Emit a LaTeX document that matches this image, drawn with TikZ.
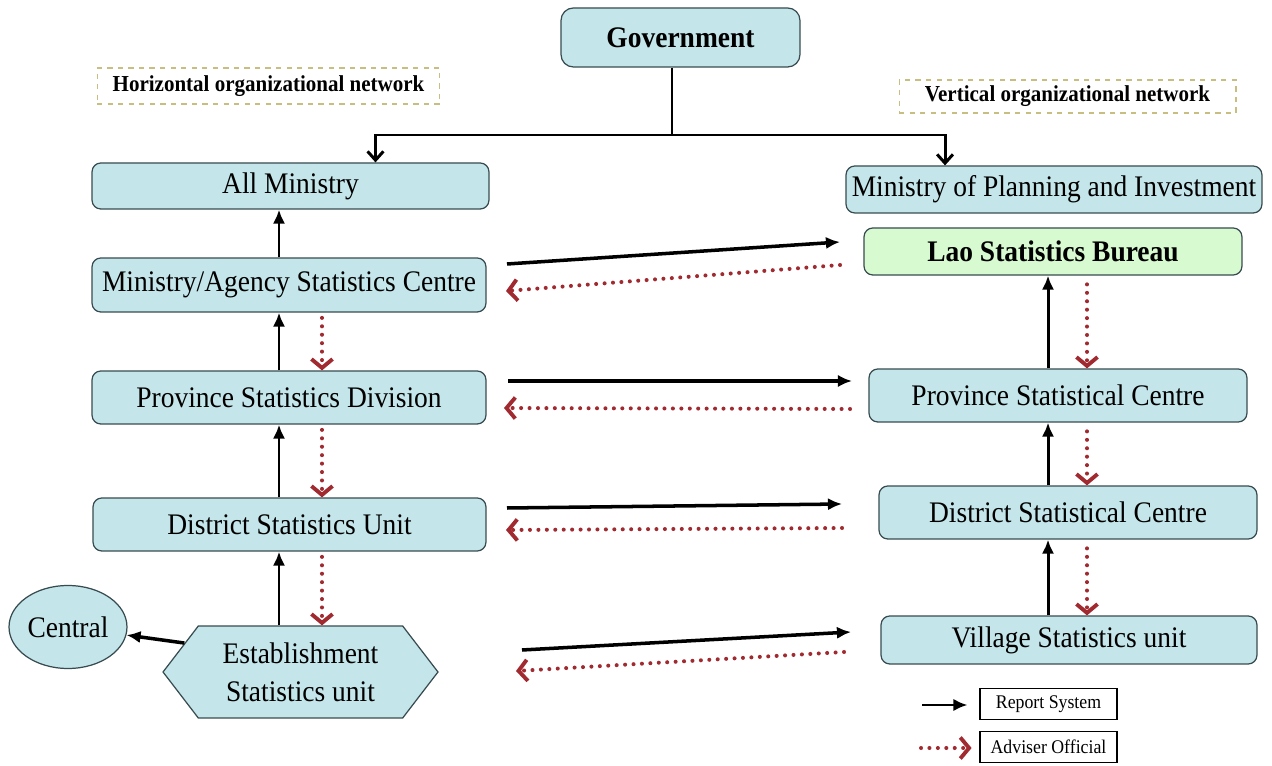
\documentclass[tikz,border=0pt]{standalone}
\usepackage{fontspec}
\setmainfont[FakeStretch=0.92]{Liberation Serif}
\usetikzlibrary{arrows.meta}
\usetikzlibrary{shapes.geometric,shapes.symbols}

\definecolor{boxblue}{RGB}{196,230,234}
\definecolor{boxline}{RGB}{55,75,80}
\definecolor{laogreen}{RGB}{216,250,208}
\definecolor{advred}{RGB}{160,42,48}
\definecolor{khaki}{RGB}{200,190,130}

\begin{document}
\begin{tikzpicture}[x=0.02cm,y=-0.02cm,
		unit/.style={rectangle,rounded corners=5pt,draw=boxline,line width=0.7pt,fill=boxblue,inner sep=0pt,font=\fontsize{17}{21.5}\selectfont},
		boldunit/.style={unit,font=\fontsize{17}{21.5}\selectfont\bfseries},
		netlabel/.style={rectangle,draw=khaki,dashed,line width=0.6pt,inner sep=0pt,font=\fontsize{13}{15}\selectfont\bfseries},
		legbox/.style={rectangle,draw=black,line width=0.6pt,inner sep=0pt,minimum width=2.74cm,minimum height=0.63cm,font=\fontsize{11}{13}\selectfont},
		report/.style={-{Latex[length=8pt,width=7pt]},line width=1.7pt},
		adviser/.style={-{Straight Barb[length=5pt,width=12pt,line width=2.2pt]},draw=advred,line width=2.3pt,line cap=round,dash pattern=on 0pt off 4.8pt},
		govarrow/.style={-{Straight Barb[length=5pt,width=9pt]},line width=1.7pt}]
	
	\useasboundingbox (0,0) rectangle (1272,766);
	
	% top
	\node[boldunit,rounded corners=7pt,minimum width=4.78cm,minimum height=1.18cm] (gov) at (680.5,37.5) {Government};
	\node[netlabel,minimum width=6.86cm,minimum height=0.72cm] (hnet) at (268.5,86) {Horizontal organizational network};
	\node[netlabel,minimum width=6.74cm,minimum height=0.66cm] (vnet) at (1067.5,96.5) {Vertical organizational network};
	
	% horizontal network
	\node[unit,minimum width=7.94cm,minimum height=0.92cm] (allmin) at (290.5,186) {All Ministry};
	\node[unit,minimum width=7.88cm,minimum height=1.08cm] (masc) at (289,285) {Ministry/Agency Statistics Centre};
	\node[unit,minimum width=7.88cm,minimum height=1.06cm] (psd) at (289,397.5) {Province Statistics Division};
	\node[unit,minimum width=7.86cm,minimum height=1.06cm] (dsu) at (289.5,524.5) {District Statistics Unit};
	\node[unit,shape=signal,signal to=east and west,signal pointer angle=105,sharp corners,minimum width=5.5cm,minimum height=1.84cm,align=center] (est) at (300.5,672) {Establishment\\Statistics unit};
	\node[unit,shape=ellipse,minimum width=2.36cm,minimum height=1.66cm] (central) at (68,627) {Central};
	
	% vertical network
	\node[unit,minimum width=8.32cm,minimum height=0.94cm] (mpi) at (1054,189.5) {Ministry of Planning and Investment};
	\node[boldunit,fill=laogreen,minimum width=7.56cm,minimum height=0.94cm] (lsb) at (1053,251.5) {Lao Statistics Bureau};
	\node[unit,minimum width=7.56cm,minimum height=1.06cm] (psc) at (1058,395.5) {Province Statistical Centre};
	\node[unit,minimum width=7.56cm,minimum height=1.06cm] (dsc) at (1068,512.5) {District Statistical Centre};
	\node[unit,minimum width=7.52cm,minimum height=0.96cm] (vsu) at (1069,640) {Village Statistics unit};
	
	% government split
	\coordinate (split) at (672,135);
	\draw[line width=1.7pt] (split |- gov.south) -- (split);
	\draw[govarrow] (split) -| ([xshift=1.7cm]allmin.north);
	\draw[govarrow] (split) -| ([xshift=-2.18cm]mpi.north);
	
	% up and down the columns
	\coordinate (lup) at (279,0);
	\coordinate (ldn) at (322,0);
	\coordinate (rup) at (1048,0);
	\coordinate (rdn) at (1087,0);
	\foreach \a/\b in {masc/allmin,psd/masc,dsu/psd,est/dsu} {
		\draw[report] (lup |- \a.north) -- (lup |- \b.south);
	}
	\foreach \a/\b in {masc/psd,psd/dsu,dsu/est} {
		\draw[adviser,shorten <=3pt] (ldn |- \a.south) -- (ldn |- \b.north);
	}
	\foreach \a/\b in {psc/lsb,dsc/psc,vsu/dsc} {
		\draw[report] (rup |- \a.north) -- (rup |- \b.south);
	}
	\foreach \a/\b in {lsb/psc,psc/dsc,dsc/vsu} {
		\draw[adviser,shorten <=5pt] (rdn |- \a.south) -- (rdn |- \b.north);
	}
	\draw[report,line width=2pt] (est.166) -- (central);
	
	% across
	\coordinate (rs1) at (507,264);  \coordinate (re1) at (840,242);
	\coordinate (as1) at (840,265);  \coordinate (ae1) at (506,291);
	\coordinate (rs2) at (508,381);  \coordinate (re2) at (852,381);
	\coordinate (as2) at (850,409);  \coordinate (ae2) at (504,408);
	\coordinate (rs3) at (507,508);  \coordinate (re3) at (842,504);
	\coordinate (as3) at (842,528);  \coordinate (ae3) at (506,530);
	\coordinate (rs4) at (522,650);  \coordinate (re4) at (851,632);
	\coordinate (as4) at (844,652);  \coordinate (ae4) at (516,671);
	\foreach \i in {1,...,4} {
		\draw[report,line width=2pt] (rs\i) -- (re\i);
		\draw[adviser] (as\i) -- (ae\i);
	}
	
	% legend
	\node[legbox] (repbox) at (1048.5,704) {Report System};
	\node[legbox] (advbox) at (1048.5,747) {Adviser Official};
	\coordinate (repleg) at (922,705);
	\coordinate (advleg) at (921,748);
	\draw[report,shorten >=6.8pt] (repleg) -- (repleg -| repbox.west);
	\draw[adviser,shorten >=4.5pt] (advleg) -- (advleg -| advbox.west);
\end{tikzpicture}
\end{document}
